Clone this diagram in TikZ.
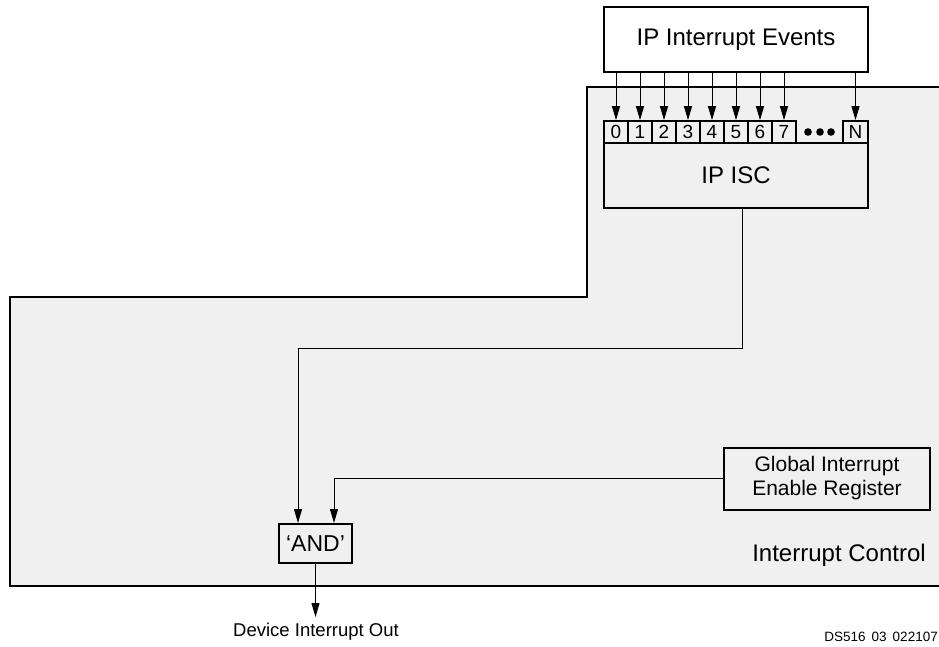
\documentclass[tikz,border=0pt]{standalone}
\usepackage{fontspec}
\setmainfont{Liberation Sans}
\usetikzlibrary{arrows.meta}
\definecolor{panel}{HTML}{F0F0F0}
\begin{document}
\begin{tikzpicture}[x=1pt,y=-1pt,
  arr/.style={-{Triangle[length=14pt,width=8pt]}, line width=1pt},
  box/.style={draw, line width=2pt, inner sep=0pt, font=\fontsize{21}{24}\selectfont, align=center},
  cell/.style={draw, line width=1.8pt, fill=panel, inner sep=0pt, minimum width=24pt, minimum height=22pt, font=\fontsize{19}{19}\selectfont},
  lbl/.style={inner sep=0pt, font=\fontsize{21}{24}\selectfont}]
\useasboundingbox (0,0) rectangle (939,647);
\begin{scope}
\clip (0,0) rectangle (939,647);
\draw[line width=2.5pt, fill=panel] (10,297) -- (587,297) -- (587,87) -- (950,87) -- (950,586) -- (10,586) -- cycle;
\end{scope}
% boxes
\node[box, fill=white, minimum width=264pt, minimum height=65pt, font=\fontsize{24}{26}\selectfont] (ev) at (736,39.5) {IP Interrupt Events};
\node[box, fill=panel, minimum width=264pt, minimum height=65pt, font=\fontsize{24}{26}\selectfont] (isc) at (736,175.5) {\raisebox{-2pt}{IP ISC}};
\foreach \i in {0,...,7}{
  \node[cell] (c\i) at ({616+24*\i},132) {\i};
}
\node[cell, minimum width=25pt] (cN) at (855.5,132) {N};
\foreach \dx in {808,820,831}{
  \fill (\dx,132) circle (3.8pt);
}
\foreach \i in {0,...,7}{
  \draw[arr] (ev.south -| c\i.north) -- (c\i.north);
}
\draw[arr] (ev.south -| cN.north) -- (cN.north);
% AND and GER
\node[box, fill=panel, minimum width=73pt, minimum height=39pt, font=\fontsize{23}{24}\selectfont] (and) at (315.5,543.5) {‘AND’};
\node[box, fill=panel, minimum width=206pt, minimum height=62pt] (ger) at (827,478.5) {Global Interrupt\\Enable Register};
\draw[arr] ([xshift=6pt]isc.south) -- ++(0,139) -| ([xshift=-17.5pt]and.north);
\draw[arr] (ger.west) -| ([xshift=18.5pt]and.north);
\coordinate (out) at (315.5,617);
\draw[arr] (and.south) -- (out);
\node[inner sep=0pt, font=\fontsize{18.5}{20}\selectfont] (dio) at (316,632) {Device Interrupt Out};
\node[inner sep=0pt, font=\fontsize{24}{26}\selectfont] (ic) at (839,555) {Interrupt Control};
\node[inner sep=0pt, anchor=east, font=\fontsize{13.5}{14}\selectfont] (ds) at (938,637) {DS516\hspace{6pt}03\hspace{6pt}022107};
\end{tikzpicture}
\end{document}
